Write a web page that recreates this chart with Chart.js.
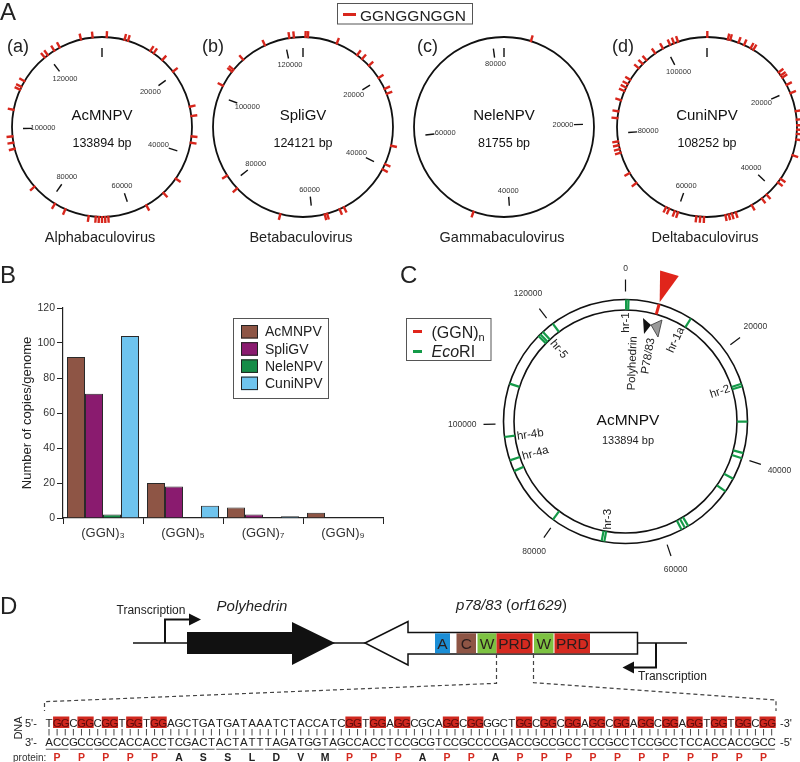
<!DOCTYPE html>
<html>
<head>
<meta charset="utf-8">
<title>GGN repeats in baculovirus genomes</title>
<script src="https://cdn.jsdelivr.net/npm/chart.js@4.4.1/dist/chart.umd.min.js"></script>
<style>
  html, body { margin: 0; padding: 0; background: #fff; }
  #wrap { position: relative; width: 800px; height: 762px; overflow: hidden; }
  #fig { position: absolute; left: 0; top: 0; }
  #barBox { position: absolute; left: 0; top: 290px; width: 400px; height: 270px; }
</style>
</head>
<body>
<div id="wrap">
  <canvas id="fig" width="800" height="762"></canvas>
  <div id="barBox"><canvas id="barChart"></canvas></div>
</div>
<script>
// ---- panel B data ----
var motifLabels = ['(GGN)\u2083', '(GGN)\u2085', '(GGN)\u2087', '(GGN)\u2089'];
var virusNames = ['AcMNPV', 'SpliGV', 'NeleNPV', 'CuniNPV'];
var acmnpvCopies = [92, 20, 6, 3];
var spligvCopies = [71, 18, 2, 0];
var nelenpvCopies = [2, 0, 0, 0];
var cuninpvCopies = [104, 7, 1, 0];
var yTicks = [0, 20, 40, 60, 80, 100, 120];
var barColors = ['#8E5545', '#8A1B6F', '#168C47', '#6FC4EE'];

// ---- panel A data (genome maps) ----
var genusNames = ['Alphabaculovirus', 'Betabaculovirus', 'Gammabaculovirus', 'Deltabaculovirus'];
var genomeSizes = [133894, 124121, 81755, 108252];
var mapTicks = [
  [0, 20000, 40000, 60000, 80000, 100000, 120000],
  [0, 20000, 40000, 60000, 80000, 100000, 120000],
  [0, 20000, 40000, 60000, 80000],
  [0, 20000, 40000, 60000, 80000, 100000]
];
var acmnpvSites = [3, 14.5, 16.8, 32.5, 35, 42, 52, 77, 83, 96, 100, 125, 137, 150.5, 176, 178, 180, 182, 184,
  188.5, 204, 211.5, 228.5, 256, 260, 264, 281, 294.5, 296.5, 300.5, 320.5, 323, 328, 332, 346.5, 354];
var spligvSites = [1.6, 3.1, 22, 37, 41, 47, 57, 65, 68.4, 102, 114.4, 118, 153, 156, 164.4, 166, 194.6,
  227, 237.4, 297.3, 308, 309.5, 318.4, 335, 351.3, 354.2];
var nelenpvSites = [17.4, 199.8];
var cuninpvSites = [0.2, 13.4, 15, 20.5, 24.3, 29, 31, 52.7, 55, 56.7, 62.1, 67.9, 79.9, 85.3, 88.9, 91.7,
  94.4, 98, 108.3, 125.2, 128, 138.6, 142.5, 150.2, 161.4, 163.9, 166, 168.2, 181.9, 184.3, 186.8, 198.8,
  201, 204.8, 207, 231.6, 239.3, 253.4, 255.8, 258.3, 260.8, 275.6, 280, 287.3, 293.5, 296, 298.5, 301.6,
  310.7, 314.4, 317.8, 324.9, 330.7, 335.8, 338.5, 341.2];

// ---- panel C data (AcMNPV map) ----
var acEcoRISites = [0.3, 1.4, 32.4, 72, 73.2, 90.1, 105, 107.5, 118, 124.9, 149, 150.8, 152.6, 190, 191.3,
  216.5, 246, 251.4, 262.7, 288.1, 314.5, 315.7, 317.3, 323.4];
var acGgnRepeatSites = [16];

// ---- panel D data ----
var dnaTop = 'TGGCGGCGGTGGTGGAGCTGATGATAAATCTACCATCGGTGGAGGCGCAGGCGGGGCTGGCGGCGGAGGCGGAGGCGGAGGTGGTGGCGG';
var dnaBottom = 'ACCGCCGCCACCACCTCGACTACTATTTAGATGGTAGCCACCTCCGCGTCCGCCCCGACCGCCGCCTCCGCCTCCGCCTCCACCACCGCC';
var proteinSeq = 'PPPPPASSLDVMPPPAPPAPPPPPPPPPPP';

var FONT = '"Liberation Sans", Arial, Helvetica, sans-serif';
function font(px, style) { return (style ? style + ' ' : '') + px + 'px ' + FONT; }

// ---------- panel B : Chart.js ----------
Chart.defaults.font.family = FONT;

var boxLegend = {
  id: 'boxLegend',
  afterDraw: function (chart) {
    var ctx = chart.ctx, a = chart.chartArea;
    var x0 = a.left + 170, y0 = a.top + 10;
    ctx.save();
    ctx.strokeStyle = '#555';
    ctx.lineWidth = 1;
    ctx.strokeRect(x0 + 0.5, y0 + 0.5, 95, 80);
    chart.data.datasets.forEach(function (ds, i) {
      var yy = y0 + 7 + i * 17.2;
      ctx.fillStyle = ds.backgroundColor;
      ctx.fillRect(x0 + 8, yy, 17, 13.5);
      ctx.strokeStyle = '#222';
      ctx.strokeRect(x0 + 8.5, yy + 0.5, 16, 12.5);
      ctx.fillStyle = '#222';
      ctx.font = font(14);
      ctx.textBaseline = 'middle';
      ctx.textAlign = 'left';
      ctx.fillText(ds.label, x0 + 32, yy + 7.5);
    });
    ctx.restore();
  }
};

var seriesValues = [acmnpvCopies, spligvCopies, nelenpvCopies, cuninpvCopies];

new Chart(document.getElementById('barChart'), {
  type: 'bar',
  data: {
    labels: motifLabels,
    datasets: virusNames.map(function (name, i) {
      return {
        label: name,
        data: seriesValues[i],
        backgroundColor: barColors[i],
        borderColor: '#2a2a2a',
        borderWidth: 1,
        categoryPercentage: 0.9,
        barPercentage: 1
      };
    })
  },
  options: {
    responsive: true,
    maintainAspectRatio: false,
    animation: false,
    layout: { padding: { top: 18, right: 17, bottom: 0, left: 0 } },
    plugins: { legend: { display: false }, tooltip: { enabled: false } },
    scales: {
      x: {
        grid: { display: true, drawOnChartArea: false, drawTicks: true, tickLength: 6, color: '#222', offset: true },
        border: { display: true, color: '#222', width: 1.2 },
        ticks: { color: '#333', font: { size: 13 }, padding: 2, maxRotation: 0 },
        afterFit: function (s) { s.height = 42; }
      },
      y: {
        min: 0,
        max: 120,
        afterBuildTicks: function (s) { s.ticks = yTicks.map(function (v) { return { value: v }; }); },
        grid: { display: true, drawOnChartArea: false, drawTicks: true, tickLength: 6, color: '#222' },
        border: { display: true, color: '#222', width: 1.2 },
        ticks: { color: '#333', font: { size: 10.5 }, padding: 2 },
        title: { display: true, text: 'Number of copies/genome', color: '#222', font: { size: 13 }, padding: { top: 20, bottom: 0 } },
        afterFit: function (s) { s.width = 63; }
      }
    }
  },
  plugins: [boxLegend]
});

// ---------- panels A, C, D : plain canvas ----------
var fig = document.getElementById('fig');
var g = fig.getContext('2d');

function pt(cx, cy, r, deg) {
  var a = deg * Math.PI / 180;
  return [cx + r * Math.sin(a), cy - r * Math.cos(a)];
}
function spoke(cx, cy, r1, r2, deg) {
  var p = pt(cx, cy, r1, deg), q = pt(cx, cy, r2, deg);
  g.beginPath(); g.moveTo(p[0], p[1]); g.lineTo(q[0], q[1]); g.stroke();
}
function text(s, x, y, f, color, align, base, rot) {
  g.save();
  g.translate(x, y);
  if (rot) g.rotate(rot * Math.PI / 180);
  g.font = f;
  g.fillStyle = color || '#222';
  g.textAlign = align || 'left';
  g.textBaseline = base || 'alphabetic';
  g.fillText(s, 0, 0);
  g.restore();
}
// runs of differently styled text; parts = [[str, font, dy]]
function runs(parts, x, y, color, centered) {
  var total = 0;
  parts.forEach(function (p) { g.font = p[1]; total += g.measureText(p[0]).width; });
  if (centered) x -= total / 2;
  g.textAlign = 'left';
  g.textBaseline = 'alphabetic';
  g.fillStyle = color || '#222';
  parts.forEach(function (p) {
    g.font = p[1];
    g.fillText(p[0], x, y + (p[2] || 0));
    x += g.measureText(p[0]).width;
  });
}
function circle(cx, cy, r) { g.beginPath(); g.arc(cx, cy, r, 0, Math.PI * 2); g.stroke(); }

// panel letters
text('A', 0, 20, font(24));
text('B', 0, 283, font(24));
text('C', 400, 283, font(24));
text('D', 0, 614, font(24));

// ---- A ----
var RED = '#D8261C';
g.strokeStyle = '#555'; g.lineWidth = 1;
g.strokeRect(337.5, 3.5, 135, 20.5);
g.fillStyle = RED; g.fillRect(343, 13, 13, 3);
text('GGNGGNGGN', 360, 20.5, font(15.5), '#222');

var siteSets = [acmnpvSites, spligvSites, nelenpvSites, cuninpvSites];
var aCenters = [102, 303, 504, 707], aCy = 127, aR = 90;
var tags = ['(a)', '(b)', '(c)', '(d)'], tagX = [7, 202, 417, 612];
aCenters.forEach(function (mx, i) {
  g.strokeStyle = '#111'; g.lineWidth = 1.8;
  circle(mx, aCy, aR);
  g.strokeStyle = RED; g.lineWidth = 2.4;
  siteSets[i].forEach(function (d) { spoke(mx, aCy, aR - 1, aR + 6, d); });
  g.strokeStyle = '#111'; g.lineWidth = 1.4;
  mapTicks[i].forEach(function (t) {
    var d = t / genomeSizes[i] * 360;
    spoke(mx, aCy, 70, 79, d);
    if (t > 0) {
      var r = 64 - 5 * Math.abs(Math.sin(d * Math.PI / 180));
      var p = pt(mx, aCy, r, d);
      text(String(t), p[0], p[1], font(7.5), '#333', 'center', 'middle');
    }
  });
  text(virusNames[i], mx, 120, font(15), '#111', 'center');
  text(genomeSizes[i] + ' bp', mx, 146.5, font(12.5), '#111', 'center');
  text(genusNames[i], mx - 2, 242, font(14.5), '#222', 'center');
  text(tags[i], tagX[i], 52, font(18), '#222');
});

// ---- C ----
var cCx = 625.5, cCy = 421.5, cRo = 122, cRi = 111.5;
g.strokeStyle = '#111'; g.lineWidth = 1.6;
circle(cCx, cCy, cRo);
circle(cCx, cCy, cRi);
g.strokeStyle = '#149A48'; g.lineWidth = 2.2;
acEcoRISites.forEach(function (d) { spoke(cCx, cCy, cRi, cRo, d); });
g.strokeStyle = '#E0251B'; g.lineWidth = 3;
acGgnRepeatSites.forEach(function (d) {
  spoke(cCx, cCy, cRi, cRo, d);
  var a = pt(cCx, cCy, 124, d), b = pt(cCx, cCy, 155, d - 3.1), c = pt(cCx, cCy, 155, d + 4.1);
  g.fillStyle = '#E0251B';
  g.beginPath(); g.moveTo(a[0], a[1]); g.lineTo(b[0], b[1]); g.lineTo(c[0], c[1]); g.closePath(); g.fill();
});
g.strokeStyle = '#111'; g.lineWidth = 1.2;
mapTicks[0].forEach(function (t) {
  var d = t / genomeSizes[0] * 360, rad = d * Math.PI / 180;
  spoke(cCx, cCy, 130, 142, d);
  g.font = font(8.5);
  var w = g.measureText(String(t)).width;
  var r = 149 + (w / 2) * Math.abs(Math.sin(rad)) + 4 * Math.abs(Math.cos(rad));
  var p = pt(cCx, cCy, r, d);
  text(String(t), p[0], p[1], font(8.5), '#333', 'center', 'middle');
});
text('AcMNPV', 628, 425, font(15.5), '#111', 'center');
text('133894 bp', 628, 444, font(11), '#222', 'center');

// polyhedrin / p78/83 arrowheads
g.fillStyle = '#111';
g.beginPath(); g.moveTo(643, 318); g.lineTo(644, 334); g.lineTo(651, 325); g.closePath(); g.fill();
g.fillStyle = '#9a9a9a'; g.strokeStyle = '#333'; g.lineWidth = 0.8;
g.beginPath(); g.moveTo(651, 325); g.lineTo(662, 320); g.lineTo(658, 337); g.closePath(); g.fill(); g.stroke();

var cLabels = [
  ['hr-1', 626.3, 322.5, -90], ['Polyhedrin', 632.5, 363.3, -88], ['P78/83', 648.3, 356, -80],
  ['hr-1a', 675.8, 340, -65], ['hr-5', 558.8, 349.2, 50], ['hr-2', 720, 391.7, -18],
  ['hr-4b', 530.3, 434.7, -8], ['hr-4a', 535.5, 453.3, -15], ['hr-3', 608.3, 519.2, -90]
];
cLabels.forEach(function (l) { text(l[0], l[1], l[2], font(11.5), '#222', 'center', 'middle', l[3]); });

// C legend
g.strokeStyle = '#555'; g.lineWidth = 1;
g.strokeRect(406.5, 318.5, 84.5, 42);
g.fillStyle = '#E0251B'; g.fillRect(413, 330, 9, 3);
g.fillStyle = '#149A48'; g.fillRect(413, 350, 9, 3);
runs([['(GGN)', font(16)], ['n', font(11), 3]], 431.5, 337.5, '#222');
runs([['Eco', font(16, 'italic')], ['RI', font(16)]], 431.5, 357, '#222');

// ---- D ----
g.strokeStyle = '#111'; g.lineWidth = 1.5;
g.beginPath(); g.moveTo(133, 643); g.lineTo(687, 643); g.stroke();

// forward promoter
g.lineWidth = 2;
g.beginPath(); g.moveTo(165, 643); g.lineTo(165, 619.5); g.lineTo(191, 619.5); g.stroke();
g.fillStyle = '#111';
g.beginPath(); g.moveTo(189, 613.5); g.lineTo(201, 619.5); g.lineTo(189, 625.5); g.closePath(); g.fill();
text('Transcription', 116.5, 613.5, font(12), '#222');

// polyhedrin arrow
g.fillStyle = '#111';
g.beginPath();
g.moveTo(187, 632); g.lineTo(292, 632); g.lineTo(292, 622); g.lineTo(335, 643);
g.lineTo(292, 665); g.lineTo(292, 654); g.lineTo(187, 654); g.closePath(); g.fill();
text('Polyhedrin', 252, 611, font(15, 'italic'), '#222', 'center');

// p78/83 arrow
g.fillStyle = '#fff'; g.strokeStyle = '#111'; g.lineWidth = 1.5;
g.beginPath();
g.moveTo(365, 643); g.lineTo(408, 621.5); g.lineTo(408, 632.5); g.lineTo(637.5, 632.5);
g.lineTo(637.5, 654); g.lineTo(408, 654); g.lineTo(408, 665); g.closePath(); g.fill(); g.stroke();

var domains = [
  ['A', 435, 450, '#1B8ED6'], ['C', 456.5, 476, '#8E5545'], ['W', 477.5, 496.5, '#7DC242'],
  ['PRD', 496.5, 532.5, '#D42A20'], ['W', 534, 553.5, '#7DC242'], ['PRD', 554.5, 590, '#D42A20']
];
domains.forEach(function (d) {
  g.fillStyle = d[3];
  g.fillRect(d[1], 633.3, d[2] - d[1], 20);
  text(d[0], (d[1] + d[2]) / 2, 649, font(15.5), '#2a1c1c', 'center');
});
runs([['p78/83', font(15, 'italic')], [' (', font(15)], ['orf1629', font(15, 'italic')], [')', font(15)]], 511.5, 610, '#222', true);

// reverse promoter
g.strokeStyle = '#111'; g.lineWidth = 2;
g.beginPath(); g.moveTo(656, 643); g.lineTo(656, 667.5); g.lineTo(632, 667.5); g.stroke();
g.fillStyle = '#111';
g.beginPath(); g.moveTo(634, 661.5); g.lineTo(622.5, 667.5); g.lineTo(634, 673.5); g.closePath(); g.fill();
text('Transcription', 638, 680, font(12), '#222');

// zoom dashes
g.strokeStyle = '#444'; g.lineWidth = 1.2; g.setLineDash([4, 3]);
g.beginPath(); g.moveTo(496.5, 654); g.lineTo(496.5, 683.3); g.lineTo(44.5, 701.7); g.lineTo(44.5, 711); g.stroke();
g.beginPath(); g.moveTo(533.5, 654); g.lineTo(533.5, 682.7); g.lineTo(776, 700); g.lineTo(776, 711); g.stroke();
g.setLineDash([]);

// sequence
var seqX0 = 49, pitch = 8.12;
function seqX(i) { return seqX0 + i * pitch; }
for (var k = 0; k < proteinSeq.length; k++) {
  if (proteinSeq[k] === 'P') {
    g.fillStyle = '#D0281F';
    g.fillRect(seqX(3 * k + 1) - pitch / 2, 716.5, pitch * 2, 11.5);
  }
}
for (var j = 0; j < dnaTop.length; j++) {
  var hl = proteinSeq[Math.floor(j / 3)] === 'P' && j % 3 > 0;
  text(dnaTop[j], seqX(j), 726.5, font(11.5), hl ? '#5e0b0b' : '#222', 'center');
  text(dnaBottom[j], seqX(j), 745.5, font(11.5), '#222', 'center');
  g.strokeStyle = '#333'; g.lineWidth = 0.9;
  g.beginPath(); g.moveTo(seqX(j), 729); g.lineTo(seqX(j), 735.5); g.stroke();
}
for (k = 0; k < proteinSeq.length; k++) {
  g.strokeStyle = '#888'; g.lineWidth = 1.4;
  g.beginPath(); g.moveTo(seqX(3 * k) - 3.2, 749.3); g.lineTo(seqX(3 * k + 2) + 3.2, 749.3); g.stroke();
  text(proteinSeq[k], seqX(3 * k + 1), 760.5, font(10.5, 'bold'), proteinSeq[k] === 'P' ? '#D42A20' : '#222', 'center');
}
text("5'-", 25, 726.5, font(11), '#222');
text("3'-", 25, 745.5, font(11), '#222');
text("-3'", 780, 726.5, font(11), '#222');
text("-5'", 780, 745.5, font(11), '#222');
text('DNA', 19, 728, font(11), '#222', 'center', 'middle', -90);
text('protein:', 13, 760.5, font(10), '#333');
</script>
</body>
</html>
